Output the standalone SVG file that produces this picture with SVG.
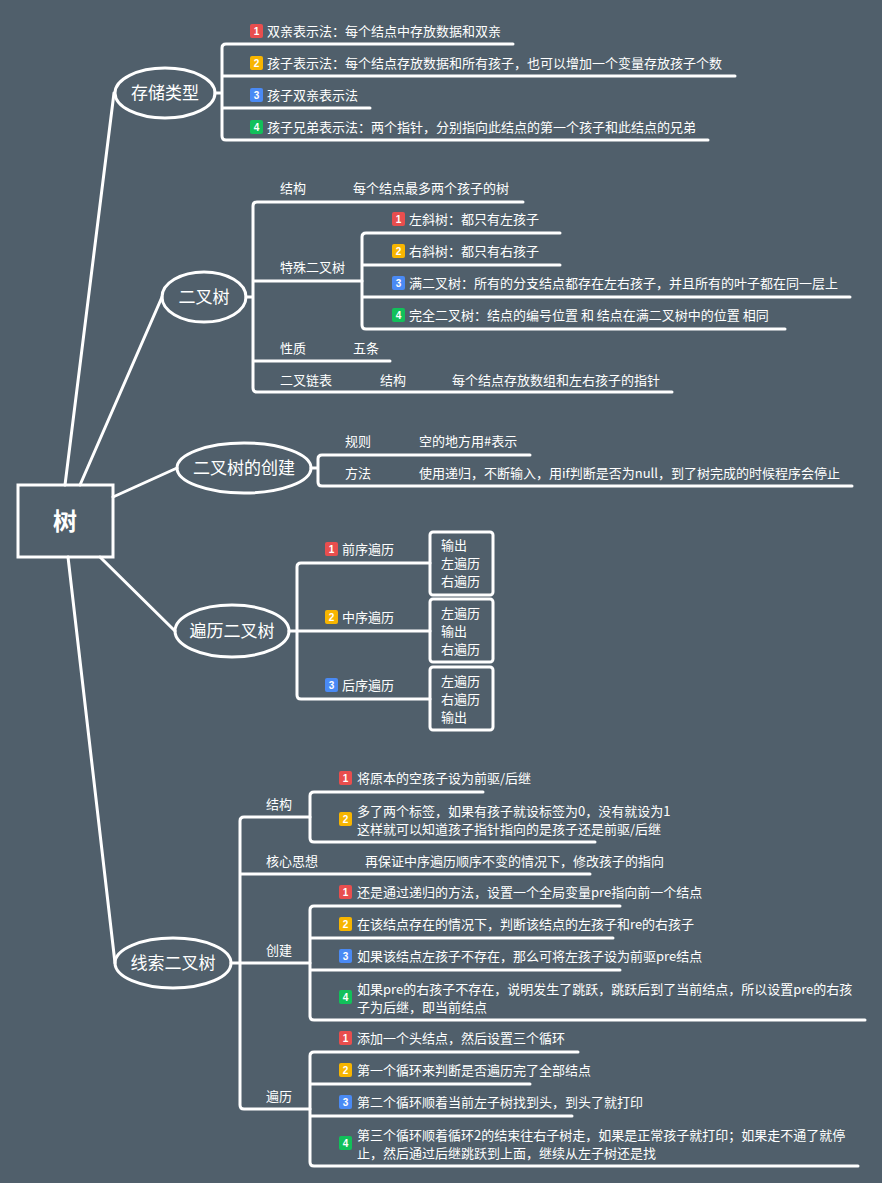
<svg xmlns="http://www.w3.org/2000/svg" width="882" height="1183" viewBox="0 0 882 1183">
<style>
.l{fill:none;stroke:#fff;stroke-width:3;stroke-linecap:round}
.t{font-family:"Noto Sans CJK SC","Liberation Sans",sans-serif;font-size:13px;fill:#fff}
.e{font-family:"Noto Sans CJK SC","Liberation Sans",sans-serif;font-size:17px;fill:#fff;text-anchor:middle}
.n{fill:none;stroke:#fff;stroke-width:3}
.b{font-family:"Liberation Sans",sans-serif;font-size:10px;font-weight:bold;fill:#fff;text-anchor:middle}
.r{fill:#e84e4e}.o{fill:#f7b500}.u{fill:#4a8af4}.g{fill:#12c05a}
</style>
<defs>
<rect id="bd" width="13" height="14" rx="2"/>
</defs>
<rect width="882" height="1183" fill="#505f6b"/>
<g id="connectors">
<path class="l" d="M65,485 L114,93 M80,485 L162,297 M113,497 L177,468 M100,557 L175,631 M68,557 L115,963"/>
<path class="l" d="M215,93 H222 M513,44 H226 Q222,44 222,48 V136 Q222,140 226,140 H708 M222,76 H735 M222,108 H370"/>
<path class="l" d="M246,297 H253 M523,202 H257 Q253,202 253,206 V388 Q253,392 257,392 H672 M253,281 H362 M253,361 H390"/>
<path class="l" d="M560,233 H366 Q362,233 362,237 V325 Q362,329 366,329 H785 M362,265 H560 M362,297 H850"/>
<path class="l" d="M311,468 H318 M530,455 H322 Q318,455 318,459 V482 Q318,486 322,486 H852"/>
<path class="l" d="M289,631 H297 M430,563 H301 Q297,563 297,567 V695 Q297,699 301,699 H430 M297,631 H430"/>
<path class="l" d="M231,963 H240 M310,817 H244 Q240,817 240,821 V1105 Q240,1109 244,1109 H310 M240,874 H590 M240,963 H310"/>
<path class="l" d="M483,792 H314 Q310,792 310,796 V838 Q310,842 314,842 H595"/>
<path class="l" d="M620,906 H314 Q310,906 310,910 V1016 Q310,1020 314,1020 H865 M310,938 H613 M310,970 H620"/>
<path class="l" d="M578,1052 H314 Q310,1052 310,1056 V1162 Q310,1166 314,1166 H858 M310,1084 H530 M310,1116 H572"/>
</g>
<g id="root"><rect x="18" y="485" width="95" height="72" fill="none" stroke="#fff" stroke-width="3"/><text x="65" y="530" class="e" style="font-size:24px;font-weight:bold">树</text></g>
<g id="n1"><ellipse cx="165" cy="93" rx="50" ry="25" class="n"/><text x="165" y="99" class="e">存储类型</text></g>
<g id="n2"><ellipse cx="204" cy="297" rx="42" ry="25" class="n"/><text x="204" y="303" class="e">二叉树</text></g>
<g id="n3"><ellipse cx="244" cy="468" rx="67" ry="25" class="n"/><text x="244" y="474" class="e">二叉树的创建</text></g>
<g id="n4"><ellipse cx="232" cy="631" rx="57" ry="26" class="n"/><text x="232" y="637" class="e">遍历二叉树</text></g>
<g id="n5"><ellipse cx="173" cy="963" rx="58" ry="25" class="n"/><text x="173" y="969" class="e">线索二叉树</text></g>
<g id="s1">
<use href="#bd" x="250" y="24" class="r"/><text x="256.5" y="35" class="b">1</text><text x="267" y="36" class="t">双亲表示法：每个结点中存放数据和双亲</text>
<use href="#bd" x="250" y="56" class="o"/><text x="256.5" y="67" class="b">2</text><text x="267" y="68" class="t">孩子表示法：每个结点存放数据和所有孩子，也可以增加一个变量存放孩子个数</text>
<use href="#bd" x="250" y="88" class="u"/><text x="256.5" y="99" class="b">3</text><text x="267" y="100" class="t">孩子双亲表示法</text>
<use href="#bd" x="250" y="120" class="g"/><text x="256.5" y="131" class="b">4</text><text x="267" y="132" class="t">孩子兄弟表示法：两个指针，分别指向此结点的第一个孩子和此结点的兄弟</text>
</g>
<g id="s2">
<text x="280" y="193" class="t">结构</text><text x="353" y="193" class="t">每个结点最多两个孩子的树</text>
<text x="280" y="272" class="t">特殊二叉树</text>
<use href="#bd" x="392" y="212" class="r"/><text x="398.5" y="223" class="b">1</text><text x="409" y="224" class="t">左斜树：都只有左孩子</text>
<use href="#bd" x="392" y="244" class="o"/><text x="398.5" y="255" class="b">2</text><text x="409" y="256" class="t">右斜树：都只有右孩子</text>
<use href="#bd" x="392" y="276" class="u"/><text x="398.5" y="287" class="b">3</text><text x="409" y="288" class="t">满二叉树：所有的分支结点都存在左右孩子，并且所有的叶子都在同一层上</text>
<use href="#bd" x="392" y="308" class="g"/><text x="398.5" y="319" class="b">4</text><text x="409" y="320" class="t">完全二叉树：结点的编号位置 和 结点在满二叉树中的位置 相同</text>
<text x="280" y="353" class="t">性质</text><text x="353" y="353" class="t">五条</text>
<text x="280" y="385" class="t">二叉链表</text><text x="380" y="385" class="t">结构</text><text x="452" y="385" class="t">每个结点存放数组和左右孩子的指针</text>
</g>
<g id="s3">
<text x="345" y="446" class="t">规则</text><text x="419" y="446" class="t">空的地方用#表示</text>
<text x="345" y="478" class="t">方法</text><text x="419" y="478" class="t">使用递归，不断输入，用if判断是否为null，到了树完成的时候程序会停止</text>
</g>
<g id="s4">
<use href="#bd" x="325" y="542" class="r"/><text x="331.5" y="553" class="b">1</text><text x="342" y="554" class="t">前序遍历</text>
<use href="#bd" x="325" y="610" class="o"/><text x="331.5" y="621" class="b">2</text><text x="342" y="622" class="t">中序遍历</text>
<use href="#bd" x="325" y="678" class="u"/><text x="331.5" y="689" class="b">3</text><text x="342" y="690" class="t">后序遍历</text>
<rect x="430" y="532" width="63" height="63" rx="3" class="n"/>
<text x="441" y="550" class="t">输出</text><text x="441" y="568" class="t">左遍历</text><text x="441" y="586" class="t">右遍历</text>
<rect x="430" y="599" width="63" height="63" rx="3" class="n"/>
<text x="441" y="618" class="t">左遍历</text><text x="441" y="636" class="t">输出</text><text x="441" y="654" class="t">右遍历</text>
<rect x="430" y="667" width="63" height="63" rx="3" class="n"/>
<text x="441" y="686" class="t">左遍历</text><text x="441" y="704" class="t">右遍历</text><text x="441" y="722" class="t">输出</text>
</g>
<g id="s5">
<text x="266" y="809" class="t">结构</text>
<use href="#bd" x="339" y="771" class="r"/><text x="345.5" y="782" class="b">1</text><text x="357" y="783" class="t">将原本的空孩子设为前驱/后继</text>
<use href="#bd" x="339" y="812" class="o"/><text x="345.5" y="823" class="b">2</text><text x="357" y="816" class="t">多了两个标签，如果有孩子就设标签为0，没有就设为1</text><text x="357" y="834" class="t">这样就可以知道孩子指针指向的是孩子还是前驱/后继</text>
<text x="266" y="866" class="t">核心思想</text><text x="365" y="866" class="t">再保证中序遍历顺序不变的情况下，修改孩子的指向</text>
<text x="266" y="955" class="t">创建</text>
<use href="#bd" x="339" y="885" class="r"/><text x="345.5" y="896" class="b">1</text><text x="357" y="897" class="t">还是通过递归的方法，设置一个全局变量pre指向前一个结点</text>
<use href="#bd" x="339" y="917" class="o"/><text x="345.5" y="928" class="b">2</text><text x="357" y="929" class="t">在该结点存在的情况下，判断该结点的左孩子和re的右孩子</text>
<use href="#bd" x="339" y="949" class="u"/><text x="345.5" y="960" class="b">3</text><text x="357" y="961" class="t">如果该结点左孩子不存在，那么可将左孩子设为前驱pre结点</text>
<use href="#bd" x="339" y="990" class="g"/><text x="345.5" y="1001" class="b">4</text><text x="357" y="994" class="t">如果pre的右孩子不存在，说明发生了跳跃，跳跃后到了当前结点，所以设置pre的右孩</text><text x="357" y="1012" class="t">子为后继，即当前结点</text>
<text x="266" y="1101" class="t">遍历</text>
<use href="#bd" x="339" y="1031" class="r"/><text x="345.5" y="1042" class="b">1</text><text x="357" y="1043" class="t">添加一个头结点，然后设置三个循环</text>
<use href="#bd" x="339" y="1063" class="o"/><text x="345.5" y="1074" class="b">2</text><text x="357" y="1075" class="t">第一个循环来判断是否遍历完了全部结点</text>
<use href="#bd" x="339" y="1095" class="u"/><text x="345.5" y="1106" class="b">3</text><text x="357" y="1107" class="t">第二个循环顺着当前左子树找到头，到头了就打印</text>
<use href="#bd" x="339" y="1136" class="g"/><text x="345.5" y="1147" class="b">4</text><text x="357" y="1140" class="t">第三个循环顺着循环2的结束往右子树走，如果是正常孩子就打印；如果走不通了就停</text><text x="357" y="1158" class="t">止，然后通过后继跳跃到上面，继续从左子树还是找</text>
</g>
</svg>
